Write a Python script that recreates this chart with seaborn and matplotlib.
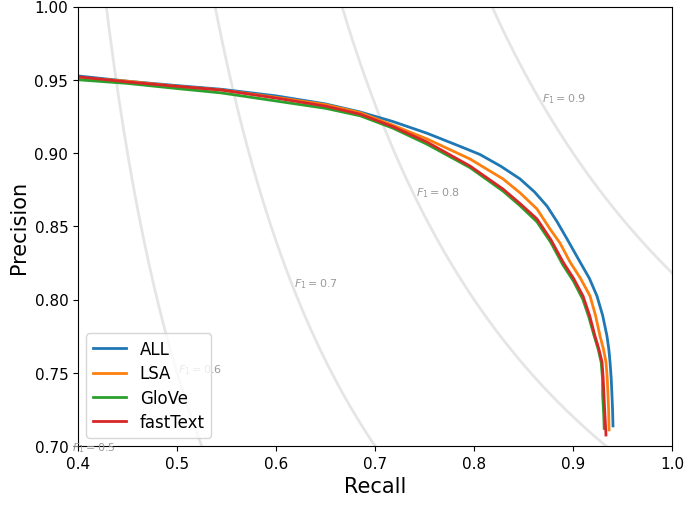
import numpy as np
import pandas as pd
import matplotlib
matplotlib.use("Agg")
import matplotlib.pyplot as plt
import seaborn as sns

models = ["ALL", "LSA", "GloVe", "fastText"]
colors = ["#1f77b4", "#ff7f0e", "#2ca02c", "#d62728"]

all_recall = [0.400, 0.450, 0.500, 0.545, 0.600, 0.650, 0.685, 0.718, 0.7525, 0.786, 0.806, 0.827,
              0.8465, 0.861, 0.8737, 0.884, 0.894, 0.9071, 0.9165, 0.9242, 0.9300, 0.9343,
              0.9362, 0.9374, 0.9386, 0.9394, 0.9400, 0.9404]
all_precision = [0.9526, 0.949, 0.946, 0.9435, 0.939, 0.9335, 0.928, 0.9215, 0.9135, 0.9045, 0.899, 0.891,
                 0.8823, 0.8735, 0.8638, 0.853, 0.8413, 0.8256, 0.8145, 0.8024, 0.789, 0.7751,
                 0.766, 0.7574, 0.746, 0.7341, 0.724, 0.7137]

lsa_recall = [0.400, 0.450, 0.500, 0.545, 0.600, 0.650, 0.685, 0.718, 0.7525, 0.796, 0.8293,
              0.8465, 0.8636, 0.8768, 0.8869, 0.897, 0.9075, 0.9172, 0.9228, 0.9273, 0.9308,
              0.9333, 0.9346, 0.9354, 0.9360, 0.9364]
lsa_precision = [0.9515, 0.949, 0.9455, 0.943, 0.938, 0.933, 0.9275, 0.919, 0.9096, 0.8959, 0.8823,
                 0.8728, 0.8618, 0.8481, 0.8385, 0.8256, 0.8145, 0.8024, 0.789, 0.7751, 0.766,
                 0.7574, 0.746, 0.7341, 0.724, 0.711]

glove_recall = [0.400, 0.450, 0.500, 0.545, 0.600, 0.650, 0.685, 0.718, 0.7525, 0.796, 0.8293,
                0.8465, 0.8636, 0.8775, 0.8899, 0.9005, 0.910, 0.916, 0.921, 0.9255, 0.9285,
                0.9298, 0.930, 0.931, 0.9315]
glove_precision = [0.950, 0.9475, 0.944, 0.941, 0.9355, 0.9305, 0.9254, 0.917, 0.906, 0.890, 0.874,
                   0.864, 0.853, 0.839, 0.8235, 0.8125, 0.800, 0.788, 0.776, 0.766, 0.757,
                   0.746, 0.734, 0.722, 0.712]

fasttext_recall = [0.400, 0.450, 0.500, 0.545, 0.600, 0.650, 0.685, 0.718, 0.7525, 0.796, 0.8293,
                   0.8465, 0.8636, 0.8775, 0.8899, 0.9005, 0.9101, 0.9168, 0.9222, 0.9262, 0.9293,
                   0.9305, 0.9313, 0.9322, 0.9333]
fasttext_precision = [0.952, 0.9485, 0.9455, 0.943, 0.9375, 0.932, 0.9265, 0.918, 0.9075, 0.8911, 0.8754,
                      0.8655, 0.855, 0.841, 0.8256, 0.8145, 0.8024, 0.789, 0.7751, 0.766, 0.7574,
                      0.746, 0.7341, 0.722, 0.7075]

f_scores = [0.5, 0.6, 0.7, 0.8, 0.9]
f_label_pos = [(0.394, 0.699), (0.501, 0.7526), (0.618, 0.8113), (0.7414, 0.8734), (0.8687, 0.9375)]

recalls = [all_recall, lsa_recall, glove_recall, fasttext_recall]
precisions = [all_precision, lsa_precision, glove_precision, fasttext_precision]

rows = []
for m, r, p in zip(models, recalls, precisions):
    for a, b in zip(r, p):
        rows.append({"model": m, "Recall": a, "Precision": b})
df = pd.DataFrame(rows)

fig = plt.figure(figsize=(6.85, 5.06), dpi=100)
ax = fig.add_axes([78 / 685, 1 - 447 / 506, (672 - 78) / 685, (447 - 7.5) / 506])

# iso-F1 curves
for f in f_scores:
    x = np.linspace(0.01, 1, 400)
    y = f * x / (2 * x - f)
    mask = (y >= 0) & (y <= 1.05)
    iso = pd.DataFrame({"x": x[mask], "y": y[mask]})
    sns.lineplot(data=iso, x="x", y="y", ax=ax, color="gray", alpha=0.2, linewidth=2,
                 sort=False, estimator=None, legend=False)
for f, (lx, ly) in zip(f_scores, f_label_pos):
    ax.text(lx, ly, r"$F_1 = {0:0.1f}$".format(f), fontsize=8, color="0.6", va="center", ha="left")

sns.lineplot(data=df, x="Recall", y="Precision", hue="model", hue_order=models,
             palette=colors, ax=ax, sort=False, estimator=None, linewidth=2, units="model")

ax.set_xlim(0.4, 1.0)
ax.set_ylim(0.70, 1.00)
ax.set_xticks([0.4, 0.5, 0.6, 0.7, 0.8, 0.9, 1.0])
ax.set_yticks([0.70, 0.75, 0.80, 0.85, 0.90, 0.95, 1.00])
ax.set_yticklabels(["0.70", "0.75", "0.80", "0.85", "0.90", "0.95", "1.00"])
ax.tick_params(labelsize=11)
ax.set_xlabel("Recall", fontsize=15)
ax.set_ylabel("Precision", fontsize=15)
leg = ax.legend(loc="lower left", fontsize=12, labelspacing=0.38)

fig.savefig("out.png", dpi=100)
